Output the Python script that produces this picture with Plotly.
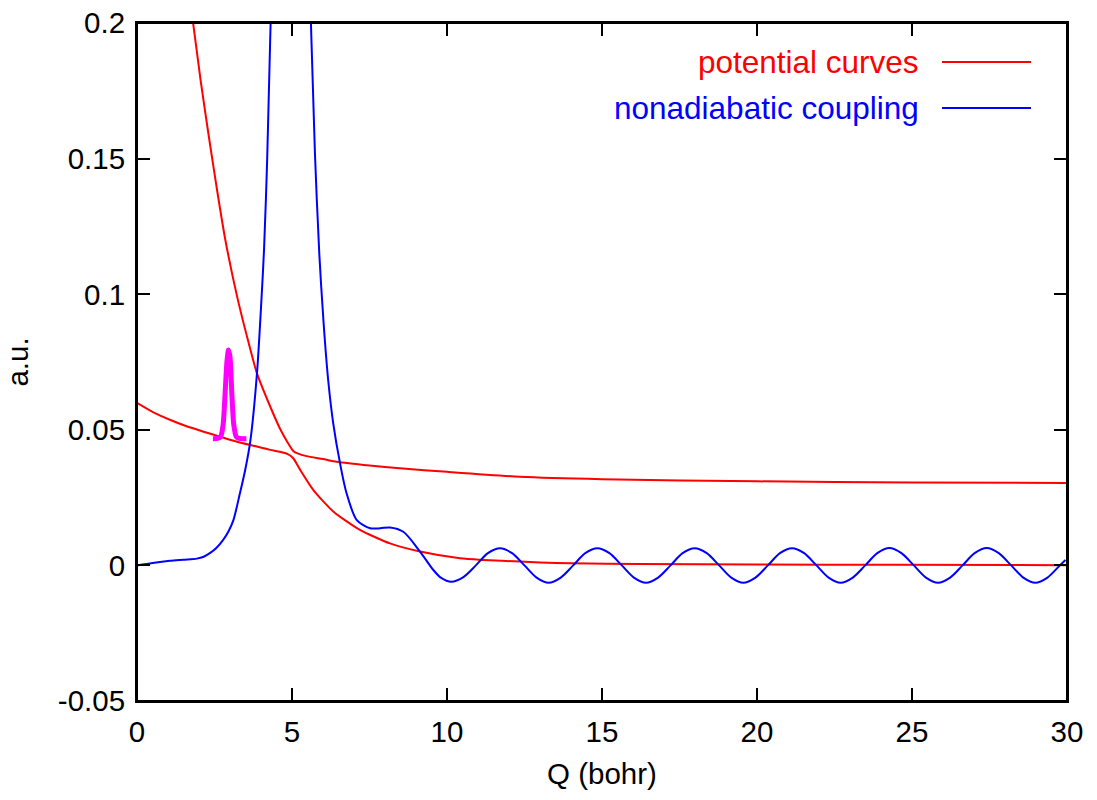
import plotly.graph_objects as go

# ---- data ----
q_upper = [1.81, 2.05, 2.31, 2.58, 2.85, 3.23, 3.55, 3.87, 4.30, 4.61, 4.85, 5.04,
           5.20, 5.47, 6.00, 6.44, 7.50, 8.48, 10.0, 12.35, 15.0, 20.0, 25.0, 30.0]
v_upper = [0.2, 0.179, 0.1587, 0.1386, 0.120, 0.0991, 0.0843, 0.0708, 0.0585, 0.0505, 0.0455, 0.0422,
           0.0412, 0.0403, 0.0392, 0.0382, 0.0368, 0.0358, 0.0345, 0.0327, 0.0318, 0.0310, 0.0306, 0.0304]

q_lower = [0.0, 0.5, 1.08, 1.6, 2.15, 2.7, 3.23, 3.8, 4.30, 4.61, 4.85, 5.04, 5.25,
           5.69, 6.34, 7.19, 8.16, 9.13, 10.42, 11.17, 12.35, 13.0, 14.0, 16.2, 20.0, 24.5, 30.0]
v_lower = [0.0599, 0.0566, 0.0536, 0.0513, 0.0493, 0.0474, 0.0456, 0.0440, 0.0426, 0.0419, 0.0411, 0.0395, 0.0355,
           0.0278, 0.0198, 0.0131, 0.0081, 0.0051, 0.0026, 0.0020, 0.0014, 0.0011, 0.0008, 0.0005, 0.0003, 0.0002, 0.0001]

# coupling: rising branch leaves the frame at Q=4.31, falling branch re-enters at Q=5.61
q_coupling = [0.0, 0.5, 1.06, 1.5, 1.93, 2.15, 2.35, 2.55, 2.78, 2.95, 3.11, 3.32, 3.49, 3.66, 3.87,
              4.0, 4.1, 4.2, 4.31, 4.9, 5.61, 5.74, 5.88, 6.02, 6.17, 6.33,
              6.55, 6.76, 7.09, 7.52, 7.85, 8.16, 8.59, 9.13, 9.56, 9.8,
              10.14, 10.53, 10.93, 11.32, 11.71, 12.10, 12.50, 12.89, 13.28, 13.67, 14.07, 14.46,
              14.85, 15.24, 15.64, 16.03, 16.42, 16.81, 17.21, 17.60, 17.99, 18.38, 18.78, 19.17,
              19.56, 19.95, 20.35, 20.74, 21.13, 21.52, 21.92, 22.31, 22.70, 23.09, 23.49, 23.88,
              24.27, 24.66, 25.06, 25.45, 25.84, 26.23, 26.63, 27.02, 27.41, 27.80, 28.20, 28.59,
              28.98, 29.37, 29.77, 29.95]
v_coupling = [0.0, 0.0009, 0.0017, 0.0021, 0.0025, 0.0032, 0.0045, 0.0063, 0.0094, 0.0125, 0.0167, 0.0266, 0.0352, 0.0462, 0.0708,
              0.095, 0.117, 0.150, 0.2, None, 0.2, 0.152, 0.115, 0.0893, 0.068, 0.0524,
              0.0376, 0.0266, 0.0167, 0.0137, 0.0137, 0.0140, 0.0124, 0.0051, -0.0017, -0.0045,
              -0.0060, -0.0043, 0.0, 0.0045, 0.0063, 0.0045, 0.0, -0.0045, -0.0064, -0.0045, 0.0, 0.0045,
              0.0063, 0.0045, 0.0, -0.0045, -0.0064, -0.0045, 0.0, 0.0045, 0.0063, 0.0045, 0.0, -0.0045,
              -0.0064, -0.0045, 0.0, 0.0045, 0.0063, 0.0045, 0.0, -0.0045, -0.0064, -0.0045, 0.0, 0.0045,
              0.0064, 0.0045, 0.0, -0.0045, -0.0064, -0.0045, 0.0, 0.0045, 0.0064, 0.0045, 0.0, -0.0045,
              -0.0064, -0.0045, 0.0, 0.0020]

q_packet = [2.45, 2.60, 2.70, 2.78, 2.84, 2.90, 2.95, 3.00, 3.06, 3.12, 3.20, 3.30, 3.40, 3.53]
v_packet = [0.0467, 0.0468, 0.0475, 0.0520, 0.0630, 0.0750, 0.0794, 0.0770, 0.0630, 0.0520, 0.0475, 0.0468, 0.0467, 0.0467]

x_ticks = [0, 5, 10, 15, 20, 25, 30]
y_ticks = [-0.05, 0, 0.05, 0.1, 0.15, 0.2]
y_tick_labels = ["-0.05", "0", "0.05", "0.1", "0.15", "0.2"]

legend_names = ["potential curves", "nonadiabatic coupling"]
RED = "#ff0000"
BLUE = "#0000ff"
MAGENTA = "#ff00ff"
FONT = "Liberation Sans, Arial, sans-serif"

fig = go.Figure()
fig.add_trace(go.Scatter(x=q_upper, y=v_upper, mode="lines", line=dict(color=RED, width=2, shape="spline", smoothing=0.6),
                         name=legend_names[0], showlegend=False))
fig.add_trace(go.Scatter(x=q_lower, y=v_lower, mode="lines", line=dict(color=RED, width=2, shape="spline", smoothing=0.6),
                         name=legend_names[0], showlegend=False))
fig.add_trace(go.Scatter(x=q_coupling, y=v_coupling, mode="lines", connectgaps=False,
                         line=dict(color=BLUE, width=2, shape="spline", smoothing=0.8),
                         name=legend_names[1], showlegend=False))
fig.add_trace(go.Scatter(x=q_packet, y=v_packet, mode="lines", line=dict(color=MAGENTA, width=5, shape="spline", smoothing=0.6),
                         showlegend=False))

axis_common = dict(showline=True, linecolor="black", linewidth=2, mirror="ticks", ticks="inside",
                   ticklen=13, tickwidth=2, tickcolor="black", showgrid=False, zeroline=False,
                   ticklabelstandoff=4,
                   tickfont=dict(family=FONT, size=29.5, color="black"))

fig.update_xaxes(range=[0, 30], tickvals=x_ticks, ticktext=[str(v) for v in x_ticks],
                 title=dict(text="Q (bohr)", font=dict(family=FONT, size=29.5, color="black"), standoff=16),
                 **axis_common)
fig.update_yaxes(range=[-0.05, 0.2], tickvals=y_ticks, ticktext=y_tick_labels,
                 title=dict(text="a.u.", font=dict(family=FONT, size=29.5, color="black"), standoff=21),
                 **axis_common)

# plot frame (gnuplot border)
fig.add_shape(type="rect", xref="paper", yref="paper", x0=0, x1=1, y0=0, y1=1,
              line=dict(color="black", width=2), fillcolor="rgba(0,0,0,0)", layer="above")

# legend drawn gnuplot-style: text right-aligned, sample line to its right
legend_rows = [(legend_names[0], RED, 0.9425), (legend_names[1], BLUE, 0.8746)]
for text, color, yp in legend_rows:
    fig.add_annotation(x=0.843, y=yp, xref="paper", yref="paper", text=text, showarrow=False,
                       xanchor="right", yanchor="middle", font=dict(family=FONT, size=31.5, color=color))
    fig.add_shape(type="line", xref="paper", yref="paper", x0=0.8656, x1=0.9613, y0=yp, y1=yp,
                  line=dict(color=color, width=2))

fig.update_layout(width=1097, height=800, margin=dict(l=137, r=30, t=23, b=99, autoexpand=False),
                  plot_bgcolor="white", paper_bgcolor="white", showlegend=False,
                  font=dict(family=FONT, size=29.5, color="black"))

# remove the page's default body margin so the figure sits at the window origin
fig.write_html("out.html", config={"displayModeBar": False},
               post_script="document.body.style.margin='0px';")
